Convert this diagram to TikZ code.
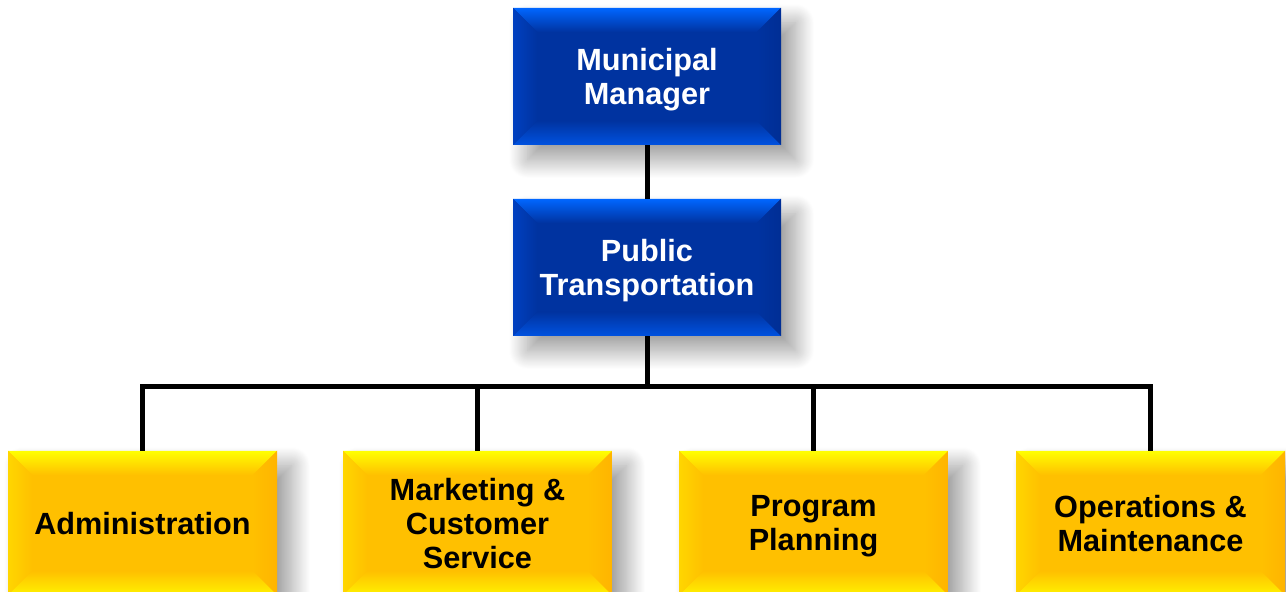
\documentclass[tikz,border=0pt]{standalone}
\usepackage{fontspec}
\setmainfont{Liberation Sans}
\usetikzlibrary{shadows.blur}
\definecolor{bC}{HTML}{0033A0}
\definecolor{bT}{HTML}{0066FF}
\definecolor{bB}{HTML}{0052E0}
\definecolor{bL}{HTML}{0040C0}
\definecolor{bR}{HTML}{002E95}
\definecolor{yC}{HTML}{FFC000}
\definecolor{yT}{HTML}{FFFF00}
\definecolor{yB}{HTML}{FFF200}
\definecolor{yL}{HTML}{FFD600}
\definecolor{yR}{HTML}{FFB400}
\def\bv{18pt}
\tikzset{
 bevel/.style n args={5}{
  rectangle, inner sep=0pt, align=center, text depth=0pt,
  font=\fontsize{23}{25.5}\selectfont\bfseries,
  fill=#1,
  blur shadow={shadow xshift=11pt, shadow yshift=-11pt, shadow blur radius=14pt, shadow blur steps=25, shadow opacity=40},
  path picture={
   \path (path picture bounding box.north west) coordinate (NW)
         (path picture bounding box.north east) coordinate (NE)
         (path picture bounding box.south west) coordinate (SW)
         (path picture bounding box.south east) coordinate (SE);
   \shade[top color=#2, bottom color=#1] (NW) -- (NE) -- ([shift={(-\bv,-\bv)}]NE) -- ([shift={(\bv,-\bv)}]NW) -- cycle;
   \shade[top color=#1, bottom color=#3] (SW) -- (SE) -- ([shift={(-\bv,\bv)}]SE) -- ([shift={(\bv,\bv)}]SW) -- cycle;
   \shade[left color=#4, right color=#1] (NW) -- (SW) -- ([shift={(\bv,\bv)}]SW) -- ([shift={(\bv,-\bv)}]NW) -- cycle;
   \shade[left color=#1, right color=#5] (NE) -- (SE) -- ([shift={(-\bv,\bv)}]SE) -- ([shift={(-\bv,-\bv)}]NE) -- cycle;
  }
 },
 bluebox/.style={bevel={bC}{bT}{bB}{bL}{bR}, text=white, minimum width=201pt, minimum height=102.75pt},
 goldbox/.style={bevel={yC}{yT}{yB}{yL}{yR}, text=black, minimum width=201.75pt, minimum height=108pt},
 conn/.style={line width=3.75pt, black}
}
\begin{document}
\begin{tikzpicture}[x=0.75pt, y=0.75pt]
\useasboundingbox (0,0) rectangle (1286,592);
\node[bluebox] (mm) at (647,515.5) {Municipal\\Manager};
\node[bluebox] (pt) at (647,324.5) {Public\\Transportation};
\node[goldbox] (adm) at (142.5,69) {Administration};
\node[goldbox] (mkt) at (477.5,69) {Marketing \&\\Customer\\Service};
\node[goldbox] (prg) at (813.5,69) {Program\\Planning};
\node[goldbox] (ops) at (1150.5,69) {Operations \&\\Maintenance};
\coordinate (bus) at (647,205);
\draw[conn] (mm.south) -- (pt.north);
\draw[conn] (pt.south) -- (bus);
\draw[conn] (adm.north) |- (bus);
\draw[conn] (mkt.north) |- (bus);
\draw[conn] (prg.north) |- (bus);
\draw[conn] (ops.north) |- (bus);
\end{tikzpicture}
\end{document}
